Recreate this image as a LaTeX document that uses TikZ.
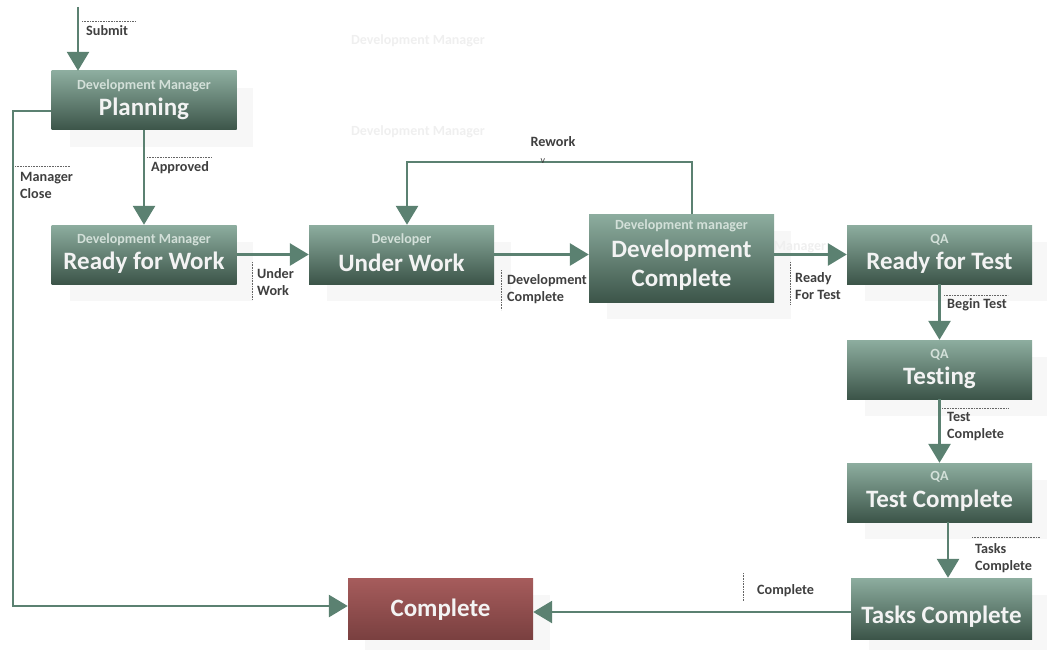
\documentclass[tikz,border=0pt]{standalone}
\usepackage{fontspec}
\setmainfont{Carlito}[Ligatures=NoCommon]
\usetikzlibrary{arrows.meta,calc}
\definecolor{boxtop}{HTML}{8DAD9F}
\definecolor{boxbot}{HTML}{3C5549}
\definecolor{redtop}{HTML}{A65C5C}
\definecolor{redbot}{HTML}{7A4040}
\definecolor{arrowc}{HTML}{5B8171}
\definecolor{labc}{HTML}{3F3F3F}
\definecolor{subc}{HTML}{D3E0D9}
\definecolor{titc}{HTML}{F3F3F3}
\definecolor{ghost}{HTML}{EFEFEF}
\definecolor{shadowc}{HTML}{F7F7F7}
\begin{document}
\begin{tikzpicture}[x=1pt,y=-1pt,
  state/.style={rectangle, inner sep=0pt, top color=boxtop, bottom color=boxbot,
    minimum width=185pt, minimum height=59pt},
  endstate/.style={rectangle, inner sep=0pt, top color=redtop, bottom color=redbot,
    minimum width=185pt, minimum height=61pt},
  subt/.style={inner sep=0pt, text=subc, font=\bfseries\fontsize{14}{15}\selectfont},
  titl/.style={inner sep=0pt, text=titc, font=\bfseries\fontsize{25}{27}\selectfont},
  lab/.style={inner sep=0pt, anchor=west, align=left, text=labc,
    font=\bfseries\fontsize{14.2}{17}\selectfont},
  ghosttext/.style={inner sep=0pt, text=ghost, font=\bfseries\fontsize{14}{15}\selectfont},
  flow/.style={draw=arrowc, line width=2.8pt, -{Triangle[length=19pt,width=22pt]}},
  tick/.style={draw=labc!80, line width=0.6pt, densely dotted},
  shade/.style={fill=shadowc}
]
\useasboundingbox (0,0) rectangle (1047,650);

% faint shadows
\fill[shade] (70,88) rectangle (253,147);
\fill[shade] (70,242) rectangle (253,301);
\fill[shade] (327,242) rectangle (511,301);
\fill[shade] (607,231) rectangle (791,319);
\fill[shade] (865,242) rectangle (1047,301);
\fill[shade] (865,357) rectangle (1047,416);
\fill[shade] (865,480) rectangle (1047,539);
\fill[shade] (365,595) rectangle (550,650);
\fill[shade] (869,595) rectangle (1047,650);

% faint texts
\node[ghosttext] (g1) at (418,41) {Development Manager};
\node[ghosttext] (g2) at (418,132) {Development Manager};
\node[ghosttext] (g3) at (800,247) {Manager};

% states
\node[state] (plan) at (144,100.5) {};
\node[subt] (plansub) at ($(plan.north)+(0,15)$) {Development Manager};
\node[titl] (plantit) at ($(plan.center)+(0,8)$) {Planning};

\node[state] (rfw) at (144,254.5) {};
\node[subt] (rfwsub) at ($(rfw.north)+(0,15)$) {Development Manager};
\node[titl] (rfwtit) at ($(rfw.center)+(0,8)$) {Ready for Work};

\node[state] (uw) at (401.5,254.5) {};
\node[subt] (uwsub) at ($(uw.north)+(0,15)$) {Developer};
\node[titl] (uwtit) at ($(uw.center)+(0,8)$) {Under Work};

\node[state, minimum height=88pt] (dc) at (681.5,258) {};
\node[subt] (dcsub) at ($(dc.north)+(0,12)$) {Development manager};
\node[titl] (dctit1) at ($(dc.center)+(0,-7)$) {Development};
\node[titl] (dctit2) at ($(dc.center)+(0,22)$) {Complete};

\node[state] (rft) at (939.5,254.5) {};
\node[subt] (rftsub) at ($(rft.north)+(0,15)$) {QA};
\node[titl] (rfttit) at ($(rft.center)+(0,8)$) {Ready for Test};

\node[state] (test) at (939.5,369.5) {};
\node[subt] (testsub) at ($(test.north)+(0,15)$) {QA};
\node[titl] (testtit) at ($(test.center)+(0,8)$) {Testing};

\node[state] (tc) at (939.5,492.5) {};
\node[subt] (tcsub) at ($(tc.north)+(0,14)$) {QA};
\node[titl] (tctit) at ($(tc.center)+(0,8)$) {Test Complete};

\node[state, minimum width=181pt, minimum height=61pt] (tasks) at (941.5,608.5) {};
\node[titl] (taskstit) at ($(tasks.center)+(0,8)$) {Tasks Complete};

\node[endstate] (comp) at (440.5,608.5) {};
\node[titl] (comptit) at ($(comp.center)+(0,1)$) {Complete};

% connectors
\coordinate (start) at (78,7);
\draw[flow] (start) -- (start |- plan.north);
\draw[flow] (plan.south) -- (rfw.north);
\draw[flow] (rfw.east) -- (uw.west);
\draw[flow] (uw.east) -- (uw.east -| dc.west);
\draw[flow] (dc.east |- rft.east) -- (rft.west);
\coordinate (rw1) at (692,162);
\coordinate (rw2) at (407,162);
\draw[flow] (dc.north -| rw1) -- (rw1) -- (rw2) -- (uw.north -| rw2);
\draw[flow] (rft.south) -- (test.north);
\draw[flow] (test.south) -- (tc.north);
\coordinate (tt) at (948,0);
\draw[flow] (tc.south -| tt) -- (tasks.north -| tt);
\coordinate (tcy) at (0,612);
\draw[flow] (tasks.west |- tcy) -- (comp.east |- tcy);
\coordinate (mc1) at (13,111);
\coordinate (mc2) at (13,606);
\draw[flow] (plan.west |- mc1) -- (mc1) -- (mc2) -- (comp.west |- mc2);

% labels
\draw[tick] (82,21) -- (135,21);
\node[lab] (lsubmit) at (86,31) {Submit};
\draw[tick] (147,157) -- (212,157);
\node[lab] (lappr) at (151,168) {Approved};
\draw[tick] (15,166) -- (70,166);
\node[lab] (lmc) at (20,185.5) {Manager\\Close};
\draw[tick] (252,262) -- (252,300);
\node[lab] (luw) at (257,282.5) {Under\\Work};
\draw[tick] (501,270) -- (501,310);
\node[lab] (ldc) at (507,289.5) {Development\\Complete};
\node[lab, anchor=center] (lrw) at (553,142) {Rework};
\node[inner sep=0pt, text=labc, font=\fontsize{10}{10}\selectfont] (vmark) at (543,161) {v};
\draw[tick] (790,262) -- (790,305);
\node[lab] (lrft) at (795,286.5) {Ready\\For Test};
\draw[tick] (944,295) -- (1008,295);
\node[lab] (lbt) at (947,305) {Begin Test};
\draw[tick] (942,408) -- (1008,408);
\node[lab] (ltc) at (947,426.5) {Test\\Complete};
\draw[tick] (972,537) -- (1040,537);
\node[lab] (ltk) at (975,558.5) {Tasks\\Complete};
\draw[tick] (743,573) -- (743,601);
\node[lab] (lcomp) at (757,591) {Complete};
\end{tikzpicture}
\end{document}
